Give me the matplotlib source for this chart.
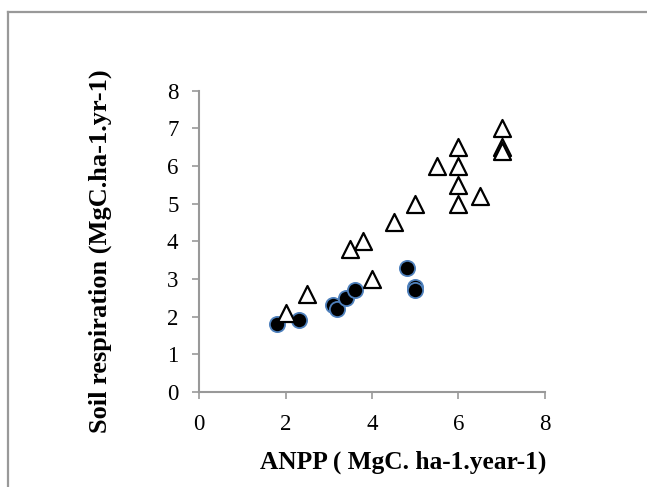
import matplotlib.pyplot as plt
from matplotlib.lines import Line2D

# open triangles
tri_x = [7, 7, 7, 6, 5.5, 6, 6, 6, 6.5, 5, 4.5, 3.8, 3.5, 4, 2.5, 2]
tri_y = [7, 6.5, 6.4, 6.5, 6, 6, 5.5, 5, 5.2, 5, 4.5, 4, 3.8, 3, 2.6, 2.1]

# filled circles
dot_x = [1.8, 2.3, 3.1, 3.2, 3.4, 3.6, 4.8, 5, 5]
dot_y = [1.8, 1.9, 2.3, 2.2, 2.5, 2.7, 3.3, 2.8, 2.7]

x_ticks = [0, 2, 4, 6, 8]
y_ticks = [0, 1, 2, 3, 4, 5, 6, 7, 8]

plt.rcParams['font.family'] = 'Liberation Serif'

fig = plt.figure(figsize=(6.47, 4.87), dpi=100)
ax = fig.add_axes([0.308, 0.195, 0.534, 0.619])

ax.scatter(dot_x, dot_y, s=120, c='black', edgecolors='#4f81bd', linewidths=1.3, zorder=3)
ax.scatter(tri_x, tri_y, s=150, marker='^', facecolors='white', edgecolors='black', linewidths=1.6, zorder=4)

ax.set_xlim(0, 8)
ax.set_ylim(0, 8)
ax.set_xticks(x_ticks)
ax.set_yticks(y_ticks)
ax.tick_params(axis='both', labelsize=16.5, color='#999999', length=5, width=1.2)
ax.tick_params(axis='x', pad=11)
ax.tick_params(axis='y', pad=10)

for side in ['top', 'right']:
    ax.spines[side].set_visible(False)
for side in ['left', 'bottom']:
    ax.spines[side].set_color('#999999')
    ax.spines[side].set_linewidth(1.5)

fig.text(403 / 647, 1 - 462 / 487, 'ANPP ( MgC. ha-1.year-1)', fontsize=18.3, fontweight='bold',
         ha='center', va='center')
fig.text(100 / 647, 1 - 251 / 487, 'Soil respiration (MgC.ha-1.yr-1)', fontsize=19, fontweight='bold',
         ha='center', va='center', rotation=90)

# outer frame, only top and left edges are visible
frame_x = 7.5 / 647
frame_y = 1 - 11.5 / 487
fig.add_artist(Line2D([frame_x, 1.01], [frame_y, frame_y], transform=fig.transFigure,
                      color='#999999', linewidth=1.6))
fig.add_artist(Line2D([frame_x, frame_x], [-0.01, frame_y], transform=fig.transFigure,
                      color='#999999', linewidth=1.6))

fig.savefig('out.png', dpi=100)
